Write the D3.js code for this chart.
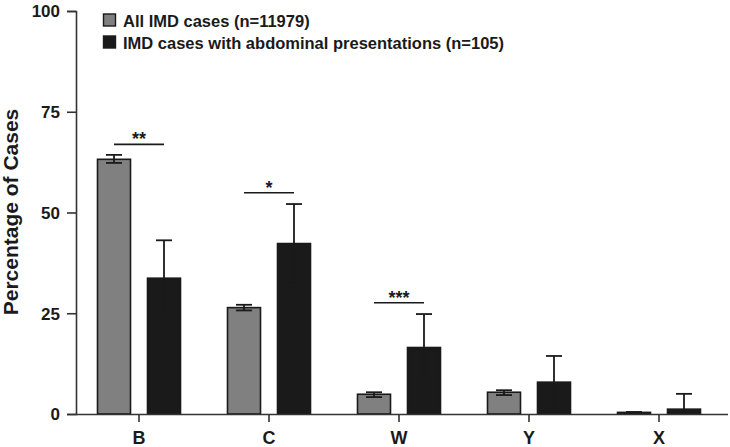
<!DOCTYPE html>
<html><head><meta charset="utf-8">
<script src="https://cdnjs.cloudflare.com/ajax/libs/d3/7.8.5/d3.min.js"></script>
<style>body{margin:0;background:#fff}svg{display:block}text{font-family:"Liberation Sans",Arial,sans-serif;font-weight:bold}</style>
</head><body><svg id="c" width="730" height="447"></svg>
<script>
const categories = ["B","C","W","Y","X"];
const seriesNames = ["All IMD cases (n=11979)","IMD cases with abdominal presentations (n=105)"];
const allValues = [63.2, 26.4, 4.9, 5.4, 0.4];
const allLow    = [62.3, 25.7, 4.2, 4.7, 0.3];
const allHigh   = [64.3, 27.1, 5.4, 5.9, 0.5];
const abdValues = [33.7, 42.3, 16.5, 7.9, 1.2];
const abdLow    = [24.5, 32.5, 8.5, 1.5, 0.0];
const abdHigh   = [43.1, 52.1, 24.8, 14.4, 5.0];
const yTicks = [0, 25, 50, 75, 100];
const sigCats = ["B","C","W"];
const sigLevel = [66.9, 54.9, 27.6];
const sigLabels = ["**","*","***"];

const svg = d3.select("#c");
const x = d3.scaleBand().domain(categories).range([74, 724]);
const y = d3.scaleLinear().domain([0, 100]).range([414, 11]);
const sub = d3.scaleBand().domain([0,1]).range([-41.5, 41.5]).paddingInner(0.34);
const colors = ["#808080", "#1a1a1a"];

const series = [
  {vals: allValues, lo: allLow, hi: allHigh},
  {vals: abdValues, lo: abdLow, hi: abdHigh}
];

series.forEach((s, si) => {
  const g = svg.append("g");
  categories.forEach((c, i) => {
    const cx = x(c) + x.bandwidth()/2;
    const bx = cx + sub(si);
    const bw = sub.bandwidth();
    g.append("rect").attr("x", bx).attr("y", y(s.vals[i]))
      .attr("width", bw).attr("height", y(0) - y(s.vals[i]))
      .attr("fill", colors[si]).attr("stroke", "#1a1a1a").attr("stroke-width", 1.6);
    const mx = bx + bw/2;
    g.append("line").attr("x1", mx).attr("x2", mx).attr("y1", y(s.lo[i])).attr("y2", y(s.hi[i]))
      .attr("stroke", "#1a1a1a").attr("stroke-width", 1.8);
    [s.lo[i], s.hi[i]].forEach(v => {
      g.append("line").attr("x1", mx - 8).attr("x2", mx + 8).attr("y1", y(v)).attr("y2", y(v))
        .attr("stroke", "#1a1a1a").attr("stroke-width", 1.8);
    });
  });
});

// significance
sigCats.forEach((c, i) => {
  const cx = x(c) + x.bandwidth()/2;
  const x1 = cx + sub(0) + sub.bandwidth()/2;
  const x2 = cx + sub(1) + sub.bandwidth()/2;
  svg.append("line").attr("x1", x1).attr("x2", x2).attr("y1", y(sigLevel[i])).attr("y2", y(sigLevel[i]))
    .attr("stroke", "#1a1a1a").attr("stroke-width", 1.6);
  svg.append("text").attr("x", (x1 + x2)/2).attr("y", y(sigLevel[i]) + 1)
    .attr("text-anchor", "middle").attr("font-size", 18).attr("fill", "#1a1a1a").text(sigLabels[i]);
});

// axes
const yAxis = d3.axisLeft(y).tickValues(yTicks).tickSize(9).tickPadding(7);
const gy = svg.append("g").attr("transform", "translate(76,0)").call(yAxis);
gy.selectAll("path,line").attr("stroke", "#333").attr("stroke-width", 1.6);
gy.selectAll("text").attr("font-size", 17).attr("fill", "#1a1a1a").attr("dy", "0.35em");

const xAxis = d3.axisBottom(x).tickSize(8).tickPadding(9).tickSizeOuter(0);
const gx = svg.append("g").attr("transform", "translate(0,414)").call(xAxis);
gx.select("path").attr("d", "M76,0.5H728").attr("stroke", "#333").attr("stroke-width", 1.6);
gx.selectAll("line").attr("stroke", "#333").attr("stroke-width", 1.6);
gx.selectAll("text").attr("font-size", 18).attr("fill", "#1a1a1a");

svg.append("text").attr("transform", "translate(17.5,212) rotate(-90)")
  .attr("text-anchor", "middle").attr("font-size", 21).attr("fill", "#1a1a1a").text("Percentage of Cases");

// legend
seriesNames.forEach((n, i) => {
  const ly = 14 + i * 22;
  svg.append("rect").attr("x", 103.5).attr("y", ly).attr("width", 12).attr("height", 12)
    .attr("fill", colors[i]).attr("stroke", "#1a1a1a").attr("stroke-width", 1.4);
  svg.append("text").attr("x", 123).attr("y", ly + 12.5).attr("font-size", 16.5).attr("fill", "#1a1a1a").text(n);
});
</script></body></html>
